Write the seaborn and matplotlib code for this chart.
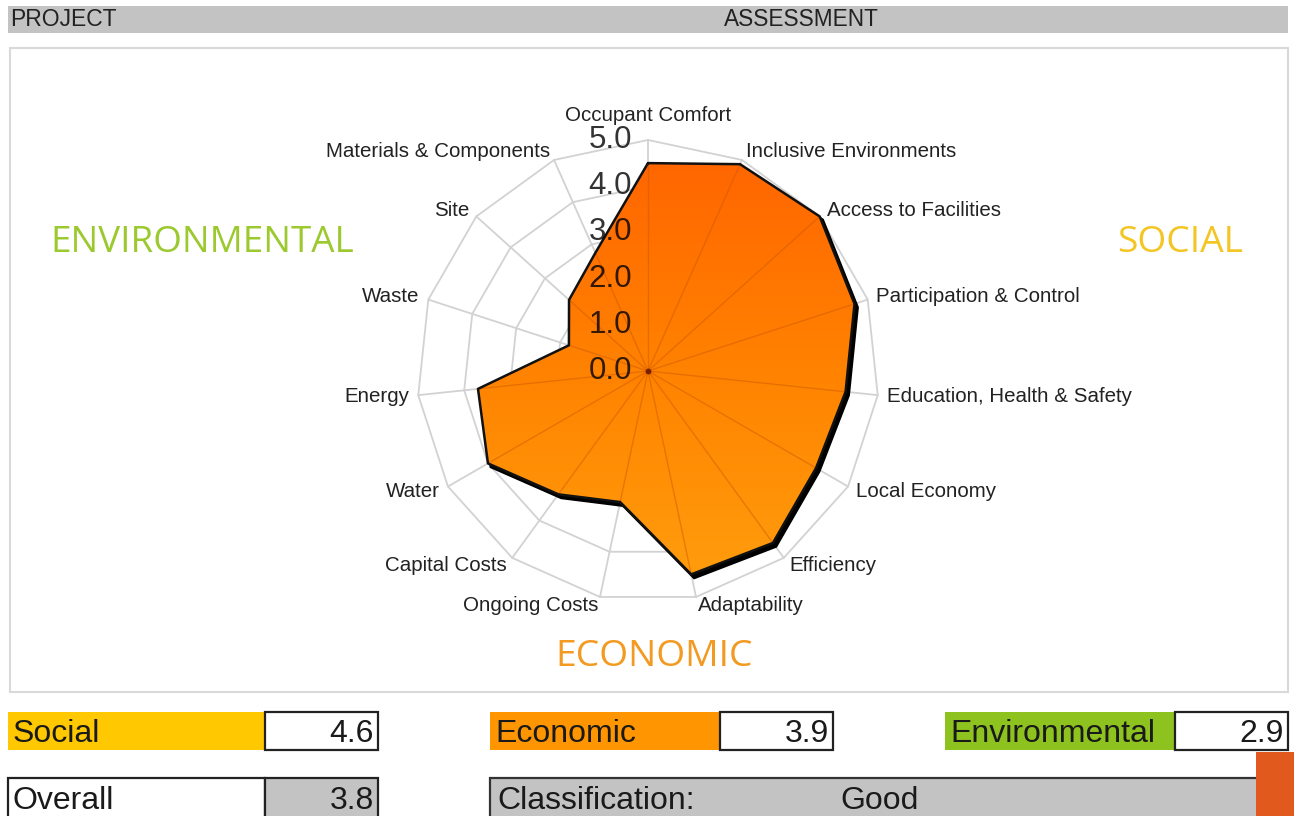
import numpy as np
import matplotlib
matplotlib.use("Agg")
import matplotlib.pyplot as plt
import matplotlib.transforms as mtransforms
from matplotlib.colors import LinearSegmentedColormap
from matplotlib.patches import Polygon, Rectangle
import seaborn as sns

# ---- data -------------------------------------------------------------
criteria = [
    "Occupant Comfort", "Inclusive Environments", "Access to Facilities",
    "Participation & Control", "Education, Health & Safety", "Local Economy",
    "Efficiency", "Adaptability", "Ongoing Costs", "Capital Costs",
    "Water", "Energy", "Waste", "Site", "Materials & Components",
]
scores = [4.5, 4.9, 5.0, 4.7, 4.3, 4.2, 4.6, 4.5, 2.9, 3.3,
          4.0, 3.7, 1.8, 2.3, 2.8]
ring_levels = [0.0, 1.0, 2.0, 3.0, 4.0, 5.0]

pillars = ["Social", "Economic", "Environmental"]
pillar_scores = [4.6, 3.9, 2.9]
overall_score = 3.8
classification = "Good"

# ---- styling ----------------------------------------------------------
sns.set_theme(style="white")
plt.rcParams["font.family"] = ["Liberation Sans", "DejaVu Sans"]

W, H = 1294, 816
fig = plt.figure(figsize=(W / 100, H / 100), dpi=100)
fig.patch.set_facecolor("white")

# background axes in pixel units for the report furniture
bg = fig.add_axes([0, 0, 1, 1])
bg.set_xlim(0, W)
bg.set_ylim(H, 0)
bg.axis("off")

# header bar
bg.add_patch(Rectangle((8, 6), 1280, 27, facecolor="#C3C3C3", edgecolor="none"))
bg.text(10, 20, "PROJECT", fontsize=16.5, color="#222222", va="center", ha="left")
bg.text(801, 20, "ASSESSMENT", fontsize=16.3, color="#222222", va="center", ha="center")

# chart frame
bg.add_patch(Rectangle((10, 48), 1278, 644, facecolor="white",
                       edgecolor="#D9D9D9", linewidth=1.5))

# pillar headings
head_font = ["Open Sans", "DejaVu Sans"]
bg.text(202, 243, "ENVIRONMENTAL", fontsize=26.5, color="#9BC92E",
        ha="center", va="center", family=head_font)
bg.text(1180, 243, "SOCIAL", fontsize=26.8, color="#F3C624",
        ha="center", va="center", family=head_font)
bg.text(654, 657, "ECONOMIC", fontsize=26.8, color="#F39A22",
        ha="center", va="center", family=head_font)

# score boxes
pillar_colors = ["#FFC800", "#FF9500", "#8DC21F"]
box_x = [8, 490, 945]
label_w = [257, 230, 230]
value_w = 113
row1_y, row_h = 712, 38
fs_box = 23
for name, val, col, x0, lw_ in zip(pillars, pillar_scores, pillar_colors, box_x, label_w):
    bg.add_patch(Rectangle((x0, row1_y), lw_, row_h, facecolor=col, edgecolor="none"))
    bg.text(x0 + 5, row1_y + row_h / 2 + 3, name, fontsize=fs_box, color="#1a1a1a",
            ha="left", va="center")
    bg.add_patch(Rectangle((x0 + lw_, row1_y), value_w, row_h, facecolor="white",
                           edgecolor="#222222", linewidth=1.6))
    bg.text(x0 + lw_ + value_w - 4, row1_y + row_h / 2 + 3, f"{val:.1f}",
            fontsize=fs_box, color="#1a1a1a", ha="right", va="center")

row2_y = 778
bg.add_patch(Rectangle((8, row2_y), label_w[0], 40, facecolor="white",
                       edgecolor="#222222", linewidth=1.6))
bg.text(13, row2_y + 23, "Overall", fontsize=fs_box, color="#1a1a1a", ha="left", va="center")
bg.add_patch(Rectangle((8 + label_w[0], row2_y), value_w, 40, facecolor="#C3C3C3",
                       edgecolor="#222222", linewidth=1.6))
bg.text(8 + label_w[0] + value_w - 4, row2_y + 23, f"{overall_score:.1f}", fontsize=fs_box,
        color="#1a1a1a", ha="right", va="center")

bg.add_patch(Rectangle((490, row2_y), 768, 40, facecolor="#C3C3C3",
                       edgecolor="#333333", linewidth=1.6))
bg.text(497, row2_y + 23, "Classification:", fontsize=fs_box, color="#1a1a1a",
        ha="left", va="center")
bg.text(840, row2_y + 23, classification, fontsize=fs_box, color="#1a1a1a",
        ha="left", va="center")
bg.add_patch(Rectangle((1256, 752), 40, 66, facecolor="#E2591D", edgecolor="none"))

# ---- radar ------------------------------------------------------------
cx, cy, unit = 648, 371, 46.2        # centre (px) and pixels per score point
span = 7.0
R = span * unit
ax = fig.add_axes([(cx - R) / W, (H - (cy + R)) / H, 2 * R / W, 2 * R / H])
ax.set_xlim(-span, span)
ax.set_ylim(-span, span)
ax.set_facecolor("none")
ax.axis("off")

n = len(criteria)
theta = np.deg2rad(90 - np.arange(n) * 360 / n)
ux, uy = np.cos(theta), np.sin(theta)
vals = np.asarray(scores)
px, py = vals * ux, vals * uy

# grid rings and spokes
grid_c = "#D2D2D2"
for lvl in ring_levels[1:]:
    ax.plot(np.append(lvl * ux, lvl * ux[0]), np.append(lvl * uy, lvl * uy[0]),
            color=grid_c, lw=1.3, zorder=1)
top = ring_levels[-1]
for a, b in zip(ux, uy):
    ax.plot([0, top * a], [0, top * b], color=grid_c, lw=1.3, zorder=1)

# drop shadow of the score polygon
shadow_tr = mtransforms.offset_copy(ax.transData, fig=fig, x=3.0, y=-3.5, units="dots")
ax.add_patch(Polygon(np.column_stack([px, py]), closed=True, facecolor="black",
                     edgecolor="black", lw=2.0, transform=shadow_tr, zorder=2))

# gradient-filled score polygon
poly = Polygon(np.column_stack([px, py]), closed=True, facecolor="none",
               edgecolor="none", zorder=3)
ax.add_patch(poly)
cmap = LinearSegmentedColormap.from_list("fill", ["#FF9C0C", "#FF8200", "#FF6600"])
grad = np.linspace(0, 1, 256).reshape(-1, 1)
img = ax.imshow(grad, cmap=cmap, origin="lower", aspect="auto",
                extent=[px.min(), px.max(), py.min(), py.max()], zorder=3)
img.set_clip_path(poly)

# spokes seen through the fill
for a, b in zip(px, py):
    ax.plot([0, a], [0, b], color="#C95600", alpha=0.45, lw=1.0, zorder=4)

# outline
outline = {"x": np.append(px, px[0]), "y": np.append(py, py[0])}
sns.lineplot(x=outline["x"], y=outline["y"], sort=False, estimator=None,
             color="#111111", lw=1.8, ax=ax, zorder=5, legend=False)
ax.scatter([0], [0], s=10, color="#7A1E00", zorder=6)

# radial scale labels
for lvl in ring_levels:
    ax.text(-0.35, lvl, f"{lvl:.1f}", fontsize=22.5, color="black", alpha=0.8,
            ha="right", va="center", zorder=7)

# criterion labels
fs_lab = 14.8
for name, a, b in zip(criteria, ux, uy):
    if abs(a) < 0.05:
        ax.text(0, 5.54, name, fontsize=fs_lab, color="#222222", ha="center",
                va="center", zorder=7)
        continue
    r = 5.2
    ax.text(r * a, r * b, name, fontsize=fs_lab, color="#222222",
            ha="left" if a > 0 else "right", va="center", zorder=7)

fig.savefig("out.png", dpi=100, facecolor="white")
